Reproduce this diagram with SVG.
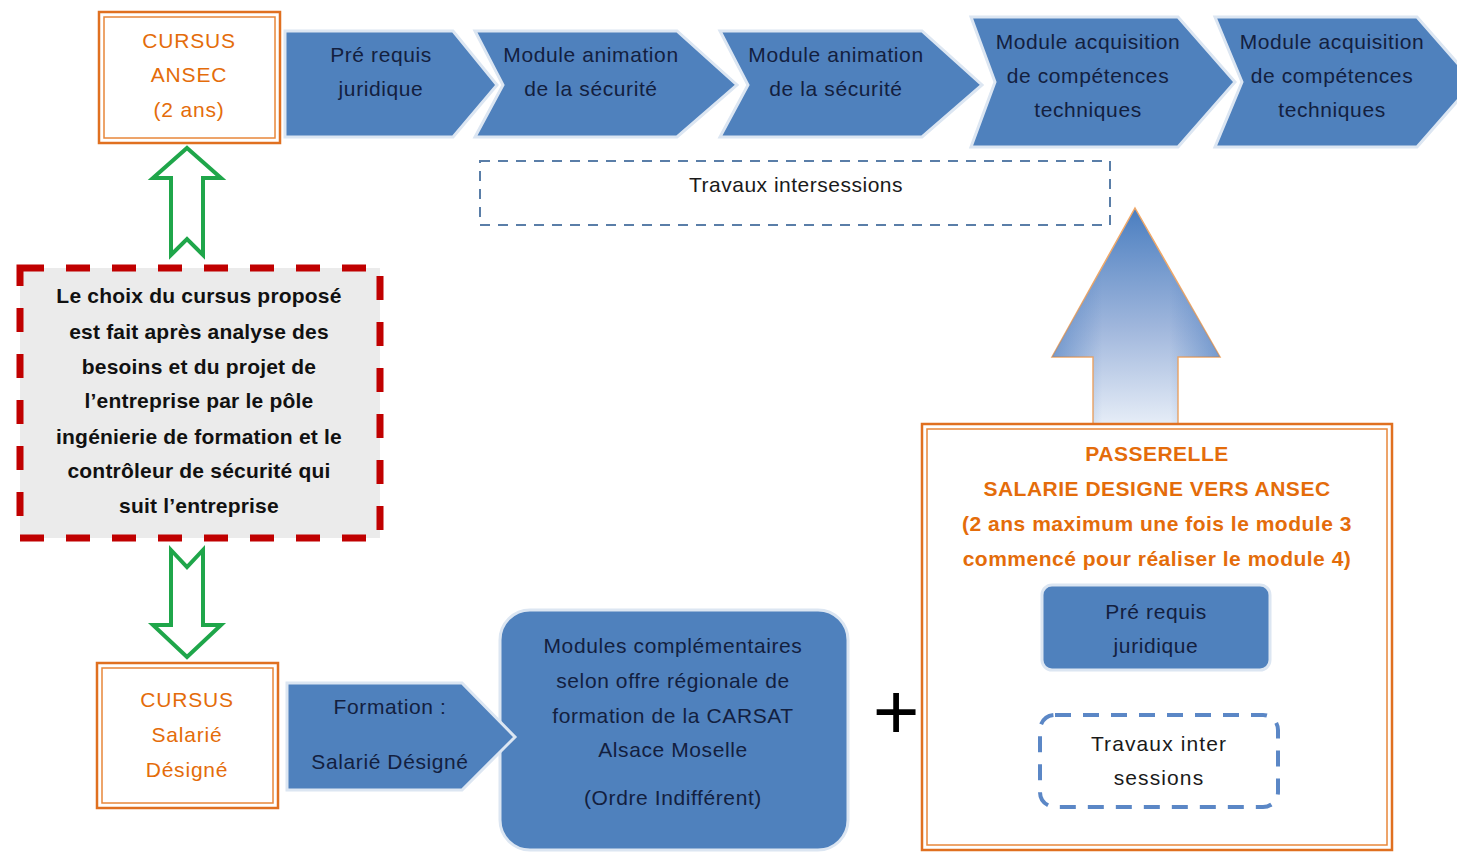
<svg xmlns="http://www.w3.org/2000/svg" width="1457" height="852" viewBox="0 0 1457 852">
<defs>
<style>
.blue{fill:#4f81bd;stroke:#dce6f2;stroke-width:3;}
.bt{font-family:"Liberation Sans",Arial,sans-serif;font-size:21px;letter-spacing:0.6px;fill:#13203f;text-anchor:middle;}
.ot{font-family:"Liberation Sans",Arial,sans-serif;font-size:21px;letter-spacing:0.8px;fill:#e46c0a;text-anchor:middle;}
.otb{font-family:"Liberation Sans",Arial,sans-serif;font-size:21px;letter-spacing:0.5px;font-weight:bold;fill:#e46c0a;text-anchor:middle;}
.kt{font-family:"Liberation Sans",Arial,sans-serif;font-size:21px;letter-spacing:0.2px;font-weight:bold;fill:#111;text-anchor:middle;}
.nt{font-family:"Liberation Sans",Arial,sans-serif;font-size:21px;letter-spacing:0.5px;fill:#1a1a1a;text-anchor:middle;}
.nt2{font-family:"Liberation Sans",Arial,sans-serif;font-size:21px;letter-spacing:1.1px;fill:#1a1a1a;text-anchor:middle;}
.o1{fill:#fff;stroke:#e07020;stroke-width:2.5;}
.o2{fill:none;stroke:#e8873a;stroke-width:1.5;}
.green{fill:#fff;stroke:#1fa64a;stroke-width:4;stroke-linejoin:miter;}
</style>
<linearGradient id="gv" x1="0" y1="0" x2="0" y2="1">
<stop offset="0" stop-color="#4a7ec0"/>
<stop offset="0.55" stop-color="#9fb6dc"/>
<stop offset="1" stop-color="#e6edf7"/>
</linearGradient>
<linearGradient id="gh" x1="0" y1="0" x2="1" y2="0">
<stop offset="0" stop-color="#3f74bb" stop-opacity="0.9"/>
<stop offset="0.3" stop-color="#3f74bb" stop-opacity="0"/>
<stop offset="0.7" stop-color="#3f74bb" stop-opacity="0"/>
<stop offset="1" stop-color="#3f74bb" stop-opacity="0.9"/>
</linearGradient>
</defs>
<rect width="1457" height="852" fill="#fff"/>

<g id="connectors">
<path id="arrow-up-green" class="green" d="M187,148 L221,178 L203,178 L203,255 L187,239 L171,255 L171,178 L153,178 Z"/>
<path id="arrow-down-green" class="green" d="M171,550 L187,567 L203,550 L203,625 L221,625 L187,657 L153,625 L171,625 Z"/>
<g id="arrow-passerelle">
<path d="M1135,208 L1220,357 L1178,357 L1178,424 L1093,424 L1093,357 L1052,357 Z" fill="url(#gv)" stroke="#f0a868" stroke-width="1.5"/>
<path d="M1135,208 L1220,357 L1178,357 L1178,424 L1093,424 L1093,357 L1052,357 Z" fill="url(#gh)" opacity="0.6"/>
</g>
<text id="plus" x="896" y="739" font-family="Liberation Sans,Arial,sans-serif" font-size="80" fill="#000" text-anchor="middle">+</text>
</g>

<g id="cursus-ansec">
<rect class="o1" x="99" y="12" width="181" height="131"/>
<rect class="o2" x="104" y="17" width="171" height="121"/>
<text class="ot" x="189" y="48">CURSUS</text>
<text class="ot" x="189" y="82">ANSEC</text>
<text class="ot" x="189" y="117">(2 ans)</text>
</g>

<g id="m1">
<path class="blue" d="M285,31 L453,31 L497,85 L453,137 L285,137 Z"/>
<text class="bt" x="381" y="62">Pré requis</text>
<text class="bt" x="381" y="96">juridique</text>
</g>
<g id="m2">
<path class="blue" d="M475,31 L677,31 L737,85 L677,137 L475,137 L503,85 Z"/>
<text class="bt" x="591" y="62">Module animation</text>
<text class="bt" x="591" y="96">de la sécurité</text>
</g>
<g id="m3">
<path class="blue" d="M720,31 L922,31 L982,85 L922,137 L720,137 L748,85 Z"/>
<text class="bt" x="836" y="62">Module animation</text>
<text class="bt" x="836" y="96">de la sécurité</text>
</g>
<g id="m4">
<path class="blue" d="M971,17 L1178,17 L1235,82 L1178,147 L971,147 L995,82 Z"/>
<text class="bt" x="1088" y="49">Module acquisition</text>
<text class="bt" x="1088" y="83">de compétences</text>
<text class="bt" x="1088" y="117">techniques</text>
</g>
<g id="m5">
<path class="blue" d="M1215,17 L1417,17 L1474,82 L1417,147 L1215,147 L1242,82 Z"/>
<text class="bt" x="1332" y="49">Module acquisition</text>
<text class="bt" x="1332" y="83">de compétences</text>
<text class="bt" x="1332" y="117">techniques</text>
</g>

<g id="travaux-intersessions">
<rect x="480" y="161" width="630" height="64" fill="none" stroke="#5a7ea8" stroke-width="2" stroke-dasharray="10,8"/>
<text class="nt" x="796" y="192">Travaux intersessions</text>
</g>

<g id="choix">
<rect x="20" y="268" width="360" height="270" fill="#ebebeb" stroke="#c00000" stroke-width="7" stroke-dasharray="24,22"/>
<text class="kt" x="199" y="303">Le choix du cursus proposé</text>
<text class="kt" x="199" y="339">est fait après analyse des</text>
<text class="kt" x="199" y="374">besoins et du projet de</text>
<text class="kt" x="199" y="408">l’entreprise par le pôle</text>
<text class="kt" x="199" y="444">ingénierie de formation et le</text>
<text class="kt" x="199" y="478">contrôleur de sécurité qui</text>
<text class="kt" x="199" y="513">suit l’entreprise</text>
</g>

<g id="cursus-salarie">
<rect class="o1" x="97" y="663" width="181" height="145"/>
<rect class="o2" x="102" y="668" width="171" height="135"/>
<text class="ot" x="187" y="707">CURSUS</text>
<text class="ot" x="187" y="742">Salarié</text>
<text class="ot" x="187" y="777">Désigné</text>
</g>

<g id="modules-complementaires">
<rect class="blue" x="500" y="610" width="348" height="240" rx="30"/>
<text class="bt" x="673" y="653">Modules complémentaires</text>
<text class="bt" x="673" y="688">selon offre régionale de</text>
<text class="bt" x="673" y="723">formation de la CARSAT</text>
<text class="bt" x="673" y="757">Alsace Moselle</text>
<text class="bt" x="673" y="805">(Ordre Indifférent)</text>
</g>

<g id="formation">
<path class="blue" d="M287,683 L462,683 L515,737 L462,790 L287,790 Z"/>
<text class="bt" x="390" y="714">Formation :</text>
<text class="bt" x="390" y="769">Salarié Désigné</text>
</g>

<g id="passerelle">
<rect class="o1" x="922" y="424" width="470" height="426"/>
<rect class="o2" x="927" y="429" width="460" height="416"/>
<text class="otb" x="1157" y="461">PASSERELLE</text>
<text class="otb" x="1157" y="496">SALARIE DESIGNE VERS ANSEC</text>
<text class="otb" x="1157" y="531">(2 ans maximum une fois le module 3</text>
<text class="otb" x="1157" y="566">commencé pour réaliser le module 4)</text>
</g>

<g id="pre-requis-2">
<rect class="blue" x="1042" y="585" width="228" height="85" rx="10"/>
<text class="bt" x="1156" y="619">Pré requis</text>
<text class="bt" x="1156" y="653">juridique</text>
</g>

<g id="travaux-inter-sessions">
<rect x="1040" y="715" width="238" height="92" rx="15" fill="#fff" stroke="#5b87c6" stroke-width="4" stroke-dasharray="16,12"/>
<text class="nt2" x="1159" y="751">Travaux inter</text>
<text class="nt2" x="1159" y="785">sessions</text>
</g>
</svg>
